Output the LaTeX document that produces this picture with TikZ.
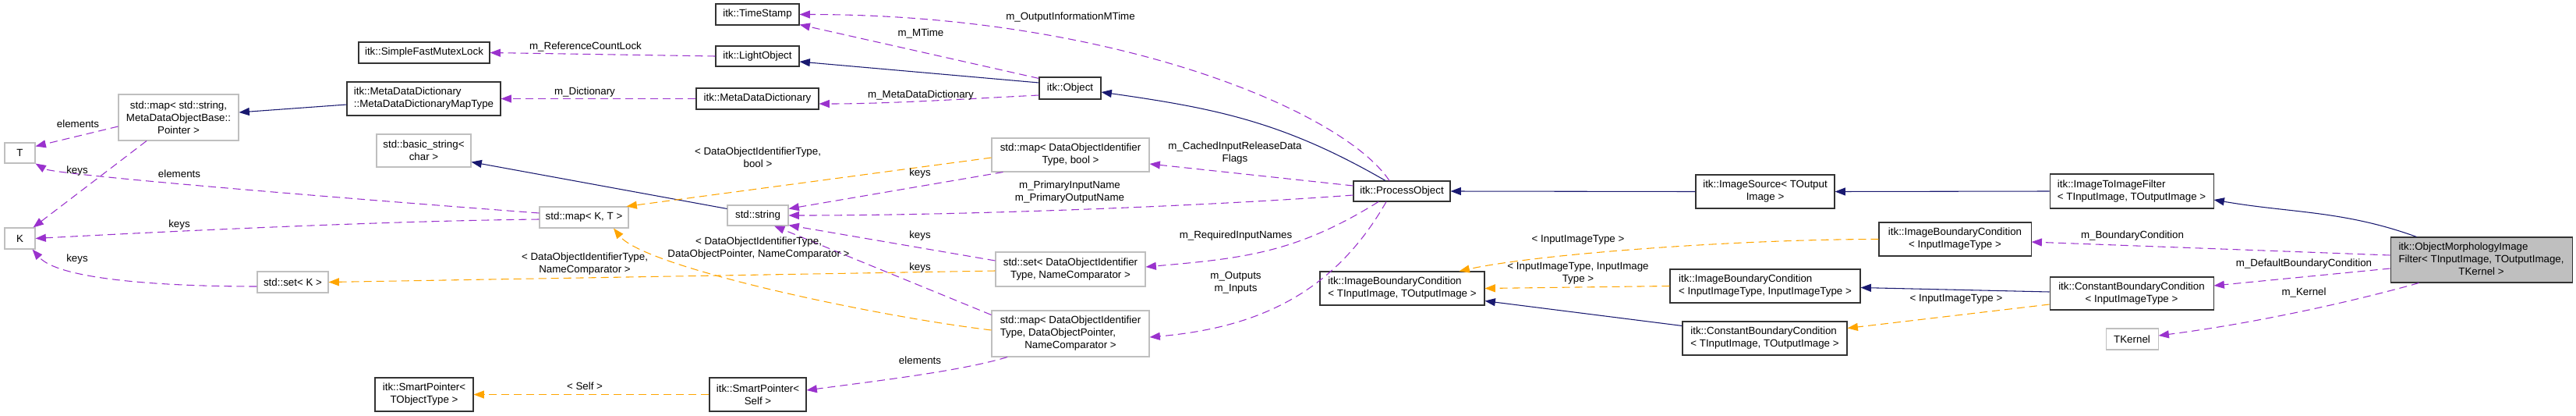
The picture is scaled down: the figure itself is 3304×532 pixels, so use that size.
\documentclass[tikz,border=0pt]{standalone}
\usepackage{fontspec}
\setmainfont{Liberation Sans}
\usepackage{tikz}
\usetikzlibrary{positioning, arrows.meta, calc}
\definecolor{inheritblue}{HTML}{191970}
\definecolor{memberpurple}{HTML}{9A32CD}
\definecolor{templateorange}{HTML}{FFA500}
\definecolor{undocgray}{HTML}{BFBFBF}
\tikzset{
    class_style/.style={
        rectangle,            % class box
        draw=black!80,
        line width=0.8pt,
        fill=white,
        inner xsep=3pt,
        inner ysep=1pt,
        font=\fontsize{10}{12}\selectfont
    },
    undoc_style/.style={class_style, draw=undocgray},
    main_style/.style={class_style, fill=undocgray},
    box_size/.style 2 args={minimum width=#1*0.75pt, minimum height=#2*0.75pt},
    inherit_arrow/.style={
        -{Triangle[length=10pt, width=7.5pt]},
        draw=inheritblue,
        line width=0.8pt
    },
    member_arrow/.style={
        -{Triangle[length=10pt, width=7.5pt]},
        draw=memberpurple,
        line width=0.8pt,
        dash pattern=on 7.5pt off 4.5pt
    },
    template_arrow/.style={member_arrow, draw=templateorange},
    label_style/.style={font=\fontsize{10}{12}\selectfont, align=center, inner sep=0pt}
}

\begin{document}
\begin{tikzpicture}[x=0.75pt, y=-0.75pt]
    \useasboundingbox (0,0) rectangle (3304,532);
    % 1. class boxes
    \node[undoc_style, box_size={39}{26}] (T) at (25.5,196) {T};
    \node[undoc_style, box_size={39}{27}] (K) at (25.5,305.5) {K};
    \node[undoc_style, box_size={154}{59}, align=center] (mapStr) at (229,150.5) {std::map< std::string,\\MetaDataObjectBase::\\Pointer >};
    \node[undoc_style, box_size={91}{27}] (setK) at (375.5,361.5) {std::set< K >};
    \node[class_style, box_size={168}{27}] (mutexLock) at (544,67.5) {itk::SimpleFastMutexLock};
    \node[class_style, box_size={197}{43}, align=left] (dictMap) at (543.5,126.5) {itk::MetaDataDictionary\\::MetaDataDictionaryMapType};
    \node[undoc_style, box_size={121}{42}, align=center] (basicStr) at (543.5,193) {std::basic\_string<\\char >};
    \node[class_style, box_size={126}{43}, align=center] (smartPtrT) at (544,505.5) {itk::SmartPointer<\\TObjectType >};
    \node[class_style, box_size={107}{27}] (timeStamp) at (971.5,18.5) {itk::TimeStamp};
    \node[class_style, box_size={107}{26}] (lightObj) at (971.5,72) {itk::LightObject};
    \node[class_style, box_size={157}{27}] (metaDict) at (971.5,126.5) {itk::MetaDataDictionary};
    \node[undoc_style, box_size={114}{27}] (mapKT) at (749,278.5) {std::map< K, T >};
    \node[undoc_style, box_size={78}{26}] (stdString) at (972,276) {std::string};
    \node[class_style, box_size={124}{43}, align=center] (smartPtrSelf) at (972,505.5) {itk::SmartPointer<\\Self >};
    \node[class_style, box_size={79}{28}] (object) at (1372.5,113) {itk::Object};
    \node[undoc_style, box_size={202}{43}, align=center] (mapFlags) at (1373,198.5) {std::map< DataObjectIdentifier\\Type, bool >};
    \node[undoc_style, box_size={192}{44}, align=center] (setNames) at (1373,345) {std::set< DataObjectIdentifier\\Type, NameComparator >};
    \node[undoc_style, box_size={202}{59}] (mapObjects) at (1373,427.5) {\begin{tabular}{@{}l@{}}std::map< DataObjectIdentifier\\Type, DataObjectPointer,\\\multicolumn{1}{@{}c@{}}{NameComparator >}\end{tabular}};
    \node[class_style, box_size={124}{26}] (procObj) at (1798,245) {itk::ProcessObject};
    \node[class_style, box_size={211}{43}, align=left] (boundT) at (1798.5,369.5) {itk::ImageBoundaryCondition\\< TInputImage, TOutputImage >};
    \node[class_style, box_size={178}{43}, align=center] (imgSource) at (2264,245.5) {itk::ImageSource< TOutput\\Image >};
    \node[class_style, box_size={244}{43}, align=left] (boundII) at (2264,366.5) {itk::ImageBoundaryCondition\\< InputImageType, InputImageType >};
    \node[class_style, box_size={211}{43}, align=left] (constT) at (2263.5,433.5) {itk::ConstantBoundaryCondition\\< TInputImage, TOutputImage >};
    \node[class_style, box_size={210}{44}, align=left] (img2img) at (2734,245) {itk::ImageToImageFilter\\< TInputImage, TOutputImage >};
    \node[class_style, box_size={195}{43}, align=center] (boundI) at (2507.5,306.5) {itk::ImageBoundaryCondition\\< InputImageType >};
    \node[class_style, box_size={210}{42}, align=center] (constI) at (2734,376) {itk::ConstantBoundaryCondition\\< InputImageType >};
    \node[undoc_style, box_size={67}{27}] (kernel) at (2734.5,434.5) {TKernel};
    \node[main_style, box_size={233}{58}] (morph) at (3182.5,333) {\begin{tabular}{@{}l@{}}itk::ObjectMorphologyImage\\Filter< TInputImage, TOutputImage,\\\multicolumn{1}{@{}c@{}}{TKernel >}\end{tabular}};

    % 2. inheritance
    \draw[inherit_arrow] ($(dictMap.west)+(0,7.5)$) -- ($(mapStr.east)+(0,-6.5)$);
    \draw[inherit_arrow] ($(stdString.north west)+(0,5)$) -- ($(basicStr.south east)+(0,-7)$);
    \draw[inherit_arrow] ($(object.west)+(0,-7)$) -- ($(lightObj.east)+(0,7)$);
    \draw[inherit_arrow] ($(procObj.north)+(-21,0)$) .. controls +(-130,-75) and +(148,21) .. ($(object.east)+(0,5)$);
    \draw[inherit_arrow] (imgSource.west) -- (procObj.east);
    \draw[inherit_arrow] (img2img.west) -- (imgSource.east);
    \draw[inherit_arrow] ($(morph.north)+(-83,0)$) .. controls +(-94,-34) and +(98,17) .. ($(img2img.east)+(0,11)$);
    \draw[inherit_arrow] ($(constI.west)+(0,-2)$) -- ($(boundII.east)+(0,2)$);
    \draw[inherit_arrow] ($(constT.north west)+(0,6)$) -- ($(boundT.south east)+(0,-6)$);

    % 3. members
    \draw[member_arrow] ($(mapStr.west)+(0,11.5)$) -- ($(T.north east)+(0,5)$);
    \draw[member_arrow] ($(mapStr.south)+(-41,0)$) -- ($(K.north east)+(-3,0)$);
    \draw[member_arrow] ($(mapKT.west)+(0,-5.5)$) .. controls +(-200,-15) and +(25,15) .. (T.south east);
    \draw[member_arrow] ($(mapKT.west)+(0,2.5)$) .. controls +(-200,2) and +(150,-8) .. (K.east);
    \draw[member_arrow] ($(setK.west)+(0,5.5)$) .. controls +(-110,0) and +(35,40) .. ($(K.south east)+(-4,0)$);
    \draw[member_arrow] (lightObj.west) -- (mutexLock.east);
    \draw[member_arrow] (metaDict.west) -- (dictMap.east);
    \draw[member_arrow] ($(object.north west)+(0,2)$) -- ($(timeStamp.south east)+(0,-1)$);
    \draw[member_arrow] ($(object.west)+(0,9)$) .. controls +(-100,5) and +(90,0) .. ($(metaDict.east)+(0,6.5)$);
    \draw[member_arrow] ($(procObj.north)+(-16,0)$) .. controls +(-60,-90) and +(400,0) .. (timeStamp.east);
    \draw[member_arrow] ($(procObj.west)+(0,-7)$) -- ($(mapFlags.east)+(0,11.5)$);
    \draw[member_arrow] ($(procObj.west)+(0,5)$) .. controls +(-160,12) and +(250,0) .. (stdString.east);
    \draw[member_arrow] ($(procObj.south)+(-30,0)$) .. controls +(-106,66) and +(124,-11) .. ($(setNames.east)+(0,-3)$);
    \draw[member_arrow] ($(procObj.south)+(-20,0)$) .. controls +(-68,119) and +(136,-12) .. ($(mapObjects.east)+(0,4.5)$);
    \draw[member_arrow] ($(mapFlags.south west)+(15,0)$) -- ($(stdString.north east)+(0,5)$);
    \draw[member_arrow] ($(setNames.west)+(0,-11)$) -- ($(stdString.south east)+(0,-1)$);
    \draw[member_arrow] ($(mapObjects.north west)+(0,6)$) -- ($(stdString.south)+(21,0)$);
    \draw[member_arrow] ($(mapObjects.south)+(-81,0)$) .. controls +(-60,18) and +(90,-12) .. ($(smartPtrSelf.east)+(0,-5.5)$);
    \draw[member_arrow] ($(morph.west)+(0,-6)$) -- ($(boundI.east)+(0,3.5)$);
    \draw[member_arrow] ($(morph.west)+(0,11)$) -- ($(constI.east)+(0,-10)$);
    \draw[member_arrow] ($(morph.south)+(-80,0)$) .. controls +(-100,28) and +(110,-14) .. ($(kernel.east)+(0,-4.5)$);

    % 4. template instances
    \draw[template_arrow] ($(mapFlags.west)+(0,3.5)$) -- ($(mapKT.north east)+(-3,0)$);
    \draw[template_arrow] ($(setNames.west)+(0,2)$) -- (setK.east);
    \draw[template_arrow] ($(mapObjects.west)+(0,-4.5)$) .. controls +(-150,-18) and +(40,50) .. ($(mapKT.south)+(38,0)$);
    \draw[template_arrow] (smartPtrSelf.west) -- (smartPtrT.east);
    \draw[template_arrow] (boundI.west) .. controls +(-180,0) and +(100,-22) .. ($(boundT.north east)+(-33,0)$);
    \draw[template_arrow] (boundII.west) -- (boundT.east);
    \draw[template_arrow] ($(constI.west)+(0,14)$) -- ($(constT.north east)+(0,9)$);

    % 5. edge labels
    \node[label_style] (lblMapStrT) at (100,159) {elements};
    \node[label_style] (lblMapStrK) at (99,219) {keys};
    \node[label_style] (lblMapKTT) at (230,223) {elements};
    \node[label_style] (lblMapKTK) at (230,288) {keys};
    \node[label_style] (lblSetKK) at (99,332) {keys};
    \node[label_style] (lblMutex) at (751,60) {m\_ReferenceCountLock};
    \node[label_style] (lblDict) at (750,118) {m\_Dictionary};
    \node[label_style] (lblMTime) at (1181,43) {m\_MTime};
    \node[label_style] (lblMetaDict) at (1181,122) {m\_MetaDataDictionary};
    \node[label_style] (lblOutInfo) at (1373,22) {m\_OutputInformationMTime};
    \node[label_style] (lblCached) at (1584,196) {m\_CachedInputReleaseData\\Flags};
    \node[label_style] (lblPrimary) at (1372,246) {m\_PrimaryInputName\\m\_PrimaryOutputName};
    \node[label_style] (lblRequired) at (1585,302) {m\_RequiredInputNames};
    \node[label_style] (lblInOut) at (1585,362) {m\_Outputs\\m\_Inputs};
    \node[label_style] (lblTplFlags) at (972,202) {< DataObjectIdentifierType,\\bool >};
    \node[label_style] (lblKeysFlags) at (1180,222) {keys};
    \node[label_style] (lblKeysNames) at (1180,302) {keys};
    \node[label_style] (lblKeysObjects) at (1180,343) {keys};
    \node[label_style] (lblTplNames) at (750,338) {< DataObjectIdentifierType,\\NameComparator >};
    \node[label_style] (lblTplObjects) at (973,318) {< DataObjectIdentifierType,\\DataObjectPointer, NameComparator >};
    \node[label_style] (lblElemSelf) at (1180,462) {elements};
    \node[label_style] (lblSelf) at (750,495) {< Self >};
    \node[label_style] (lblTplBoundI) at (2024,307) {< InputImageType >};
    \node[label_style] (lblTplBoundII) at (2024,350) {< InputImageType, InputImage\\Type >};
    \node[label_style] (lblTplConstI) at (2509,383) {< InputImageType >};
    \node[label_style] (lblBound) at (2735,302) {m\_BoundaryCondition};
    \node[label_style] (lblDefBound) at (2955,338) {m\_DefaultBoundaryCondition};
    \node[label_style] (lblKernel) at (2955,375) {m\_Kernel};
\end{tikzpicture}
\end{document}
